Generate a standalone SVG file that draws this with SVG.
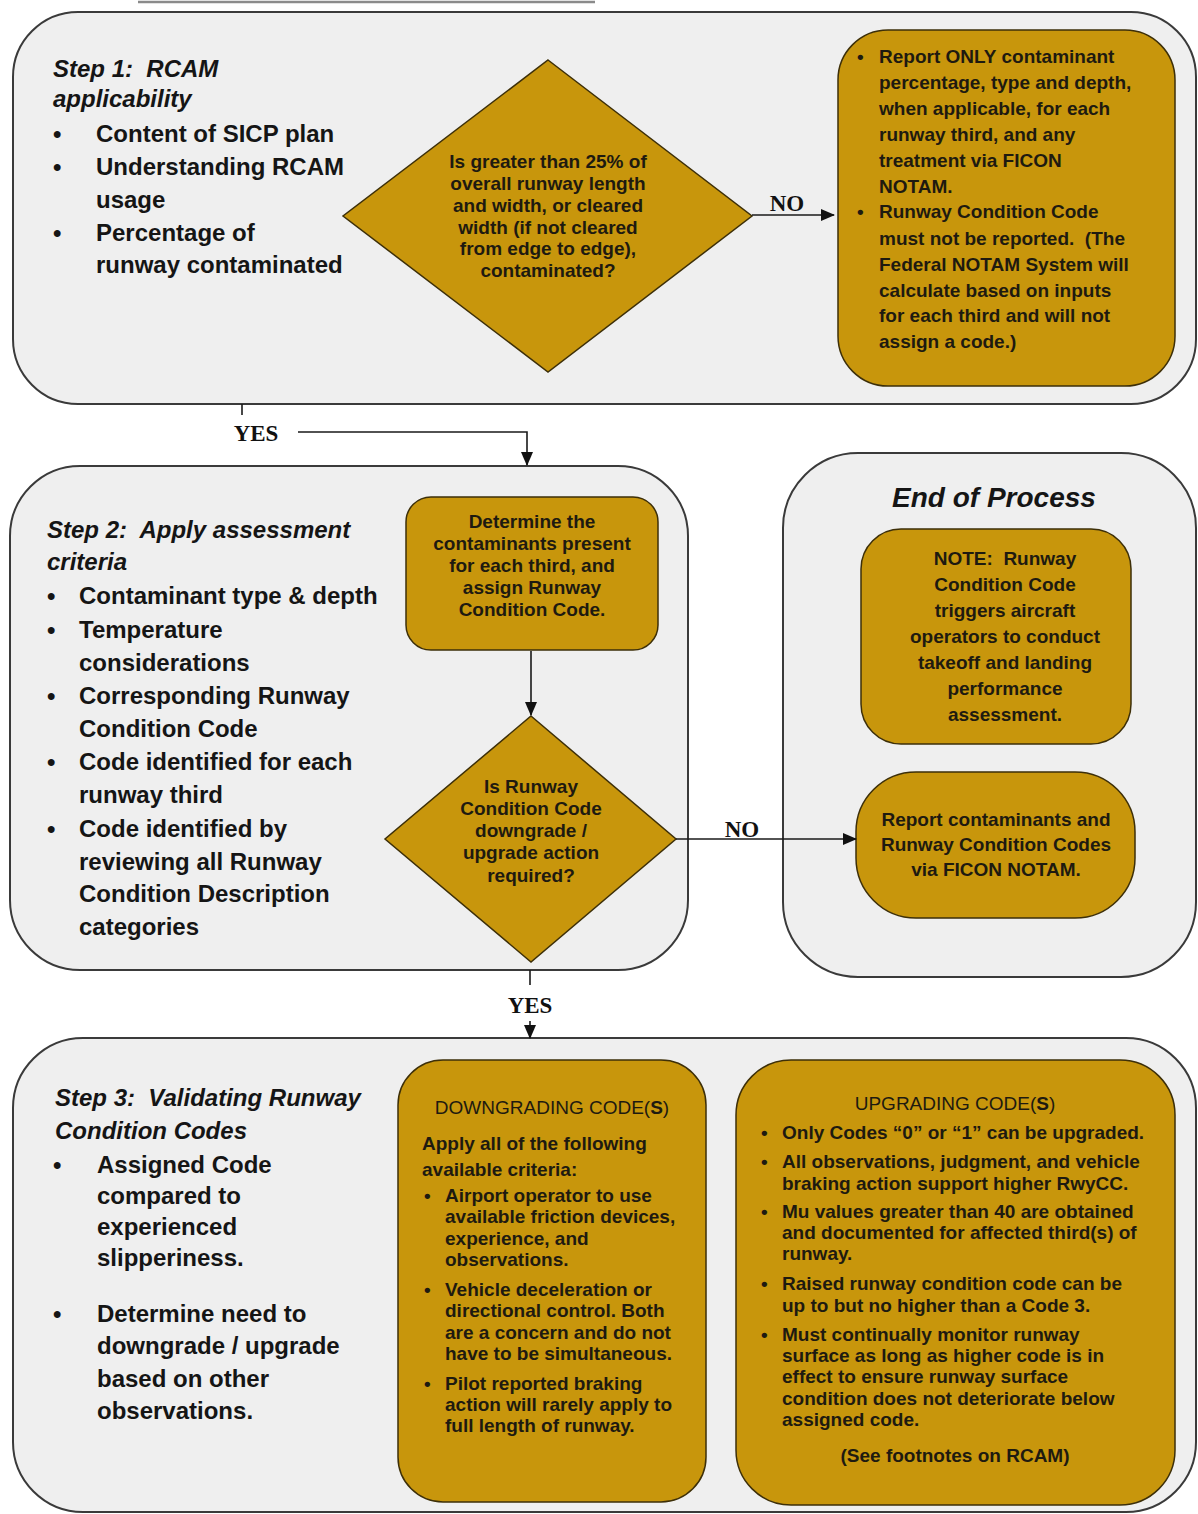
<svg xmlns="http://www.w3.org/2000/svg" width="1198" height="1514" viewBox="0 0 1198 1514">
<style>
.bg{fill:#efefef;stroke:#3a3a3a;stroke-width:2}
.gold{fill:#c8960c;stroke:#3d2f08;stroke-width:1.5}
.lt{font-family:"Liberation Sans",Arial,sans-serif;font-size:24px;font-weight:bold;fill:#151515}
.hd{font-family:"Liberation Sans",Arial,sans-serif;font-size:24px;font-weight:bold;font-style:italic;fill:#151515}
.gt{font-family:"Liberation Sans",Arial,sans-serif;font-size:19px;font-weight:bold;fill:#1e1a10}
.gr{font-family:"Liberation Sans",Arial,sans-serif;font-size:19px;font-weight:normal;fill:#1e1a10}
.c{text-anchor:middle}
.lbl{font-family:"Liberation Serif","Times New Roman",serif;font-size:23px;font-weight:bold;fill:#111;text-anchor:middle}
.ln{fill:none;stroke:#1a1a1a;stroke-width:1.6}
</style>
<defs>
<marker id="ah" markerUnits="userSpaceOnUse" markerWidth="14" markerHeight="14" viewBox="0 0 14 14" refX="13" refY="7" orient="auto">
<path d="M0,1 L14,7 L0,13 Z" fill="#111"/>
</marker>
</defs>
<rect width="1198" height="1514" fill="#ffffff"/>
<line x1="138" y1="2" x2="595" y2="2" stroke="#8a8a8a" stroke-width="2.5"/>

<g id="step1">
<rect class="bg" x="13" y="12" width="1183" height="392" rx="65"/>
<text class="hd" xml:space="preserve" x="53" y="77">Step 1:  RCAM</text>
<text class="hd" x="53" y="107">applicability</text>
<g class="lt">
<text x="53" y="142">•</text><text x="96" y="142">Content of SICP plan</text>
<text x="53" y="175">•</text><text x="96" y="175">Understanding RCAM</text>
<text x="96" y="208">usage</text>
<text x="53" y="241">•</text><text x="96" y="241">Percentage of</text>
<text x="96" y="273">runway contaminated</text>
</g>
</g>

<g id="decision1">
<polygon class="gold" points="548,60 752,216 548,372 343,216"/>
<g class="gt c">
<text x="548" y="168">Is greater than 25% of</text>
<text x="548" y="190">overall runway length</text>
<text x="548" y="212">and width, or cleared</text>
<text x="548" y="234">width (if not cleared</text>
<text x="548" y="255">from edge to edge),</text>
<text x="548" y="277">contaminated?</text>
</g>
</g>

<g id="report-only">
<rect class="gold" x="838" y="30" width="337" height="356" rx="50"/>
<g class="gt">
<text x="857" y="63">•</text><text x="879" y="63">Report ONLY contaminant</text>
<text x="879" y="89">percentage, type and depth,</text>
<text x="879" y="115">when applicable, for each</text>
<text x="879" y="141">runway third, and any</text>
<text x="879" y="167">treatment via FICON</text>
<text x="879" y="193">NOTAM.</text>
<text x="857" y="218">•</text><text x="879" y="218">Runway Condition Code</text>
<text x="879" y="245" xml:space="preserve">must not be reported.  (The</text>
<text x="879" y="271">Federal NOTAM System will</text>
<text x="879" y="297">calculate based on inputs</text>
<text x="879" y="322">for each third and will not</text>
<text x="879" y="348">assign a code.)</text>
</g>
</g>

<g id="step2">
<rect class="bg" x="10" y="466" width="678" height="504" rx="70"/>
<text class="hd" xml:space="preserve" x="47" y="538">Step 2:  Apply assessment</text>
<text class="hd" x="47" y="570">criteria</text>
<g class="lt">
<text x="47" y="604">•</text><text x="79" y="604">Contaminant type &amp; depth</text>
<text x="47" y="638">•</text><text x="79" y="638">Temperature</text>
<text x="79" y="671">considerations</text>
<text x="47" y="704">•</text><text x="79" y="704">Corresponding Runway</text>
<text x="79" y="737">Condition Code</text>
<text x="47" y="770">•</text><text x="79" y="770">Code identified for each</text>
<text x="79" y="803">runway third</text>
<text x="47" y="837">•</text><text x="79" y="837">Code identified by</text>
<text x="79" y="870">reviewing all Runway</text>
<text x="79" y="902">Condition Description</text>
<text x="79" y="935">categories</text>
</g>
</g>

<g id="determine">
<rect class="gold" x="406" y="497" width="252" height="153" rx="25"/>
<g class="gt c">
<text x="532" y="528">Determine the</text>
<text x="532" y="550">contaminants present</text>
<text x="532" y="572">for each third, and</text>
<text x="532" y="594">assign Runway</text>
<text x="532" y="616">Condition Code.</text>
</g>
</g>

<g id="decision2">
<polygon class="gold" points="531,716 676,839 531,962 385,839"/>
<g class="gt c">
<text x="531" y="793">Is Runway</text>
<text x="531" y="815">Condition Code</text>
<text x="531" y="837">downgrade /</text>
<text x="531" y="859">upgrade action</text>
<text x="531" y="882">required?</text>
</g>
</g>

<g id="end-of-process">
<rect class="bg" x="783" y="453" width="413" height="524" rx="75"/>
<text class="hd c" x="994" y="507" style="font-size:28px">End of Process</text>
</g>

<g id="note">
<rect class="gold" x="861" y="529" width="270" height="215" rx="40"/>
<g class="gt c">
<text x="1005" y="565" xml:space="preserve">NOTE:  Runway</text>
<text x="1005" y="591">Condition Code</text>
<text x="1005" y="617">triggers aircraft</text>
<text x="1005" y="643">operators to conduct</text>
<text x="1005" y="669">takeoff and landing</text>
<text x="1005" y="695">performance</text>
<text x="1005" y="721">assessment.</text>
</g>
</g>

<g id="report-codes">
<rect class="gold" x="856" y="772" width="279" height="146" rx="60"/>
<g class="gt c">
<text x="996" y="826">Report contaminants and</text>
<text x="996" y="851">Runway Condition Codes</text>
<text x="996" y="876">via FICON NOTAM.</text>
</g>
</g>

<g id="step3">
<rect class="bg" x="13" y="1038" width="1183" height="474" rx="70"/>
<text class="hd" xml:space="preserve" x="55" y="1106">Step 3:  Validating Runway</text>
<text class="hd" x="55" y="1139">Condition Codes</text>
<g class="lt">
<text x="53" y="1173">•</text><text x="97" y="1173">Assigned Code</text>
<text x="97" y="1204">compared to</text>
<text x="97" y="1235">experienced</text>
<text x="97" y="1266">slipperiness.</text>
<text x="53" y="1322">•</text><text x="97" y="1322">Determine need to</text>
<text x="97" y="1354">downgrade / upgrade</text>
<text x="97" y="1387">based on other</text>
<text x="97" y="1419">observations.</text>
</g>
</g>

<g id="downgrading">
<rect class="gold" x="398" y="1060" width="308" height="442" rx="45"/>
<text class="gr c" x="552" y="1114">DOWNGRADING CODE(<tspan font-weight="bold">S</tspan>)</text>
<g class="gt">
<text x="422" y="1150">Apply all of the following</text>
<text x="422" y="1176">available criteria:</text>
<text x="424" y="1202">•</text><text x="445" y="1202">Airport operator to use</text>
<text x="445" y="1223">available friction devices,</text>
<text x="445" y="1245">experience, and</text>
<text x="445" y="1266">observations.</text>
<text x="424" y="1296">•</text><text x="445" y="1296">Vehicle deceleration or</text>
<text x="445" y="1317">directional control. Both</text>
<text x="445" y="1339">are a concern and do not</text>
<text x="445" y="1360">have to be simultaneous.</text>
<text x="424" y="1390">•</text><text x="445" y="1390">Pilot reported braking</text>
<text x="445" y="1411">action will rarely apply to</text>
<text x="445" y="1432">full length of runway.</text>
</g>
</g>

<g id="upgrading">
<rect class="gold" x="736" y="1060" width="439" height="445" rx="55"/>
<text class="gr c" x="955" y="1110">UPGRADING CODE(<tspan font-weight="bold">S</tspan>)</text>
<g class="gt">
<text x="761" y="1139">•</text><text x="782" y="1139">Only Codes “0” or “1” can be upgraded.</text>
<text x="761" y="1168">•</text><text x="782" y="1168">All observations, judgment, and vehicle</text>
<text x="782" y="1190">braking action support higher RwyCC.</text>
<text x="761" y="1218">•</text><text x="782" y="1218">Mu values greater than 40 are obtained</text>
<text x="782" y="1239">and documented for affected third(s) of</text>
<text x="782" y="1260">runway.</text>
<text x="761" y="1290">•</text><text x="782" y="1290">Raised runway condition code can be</text>
<text x="782" y="1312">up to but no higher than a Code 3.</text>
<text x="761" y="1341">•</text><text x="782" y="1341">Must continually monitor runway</text>
<text x="782" y="1362">surface as long as higher code is in</text>
<text x="782" y="1383">effect to ensure runway surface</text>
<text x="782" y="1405">condition does not deteriorate below</text>
<text x="782" y="1426">assigned code.</text>
<text class="c" x="955" y="1462">(See footnotes on RCAM)</text>
</g>
</g>

<g id="connectors">
<line class="ln" x1="752" y1="215" x2="834" y2="215" marker-end="url(#ah)"/>
<text class="lbl" x="787" y="211">NO</text>
<line class="ln" x1="242" y1="404" x2="242" y2="415"/>
<text class="lbl" x="256" y="441">YES</text>
<polyline class="ln" points="298,432 527,432 527,465" marker-end="url(#ah)"/>
<line class="ln" x1="531" y1="651" x2="531" y2="715" marker-end="url(#ah)"/>
<line class="ln" x1="676" y1="839" x2="856" y2="839" marker-end="url(#ah)"/>
<text class="lbl" x="742" y="837">NO</text>
<line class="ln" x1="530" y1="970" x2="530" y2="985"/>
<text class="lbl" x="530" y="1013">YES</text>
<line class="ln" x1="530" y1="1021" x2="530" y2="1038" marker-end="url(#ah)"/>
</g>
</svg>
